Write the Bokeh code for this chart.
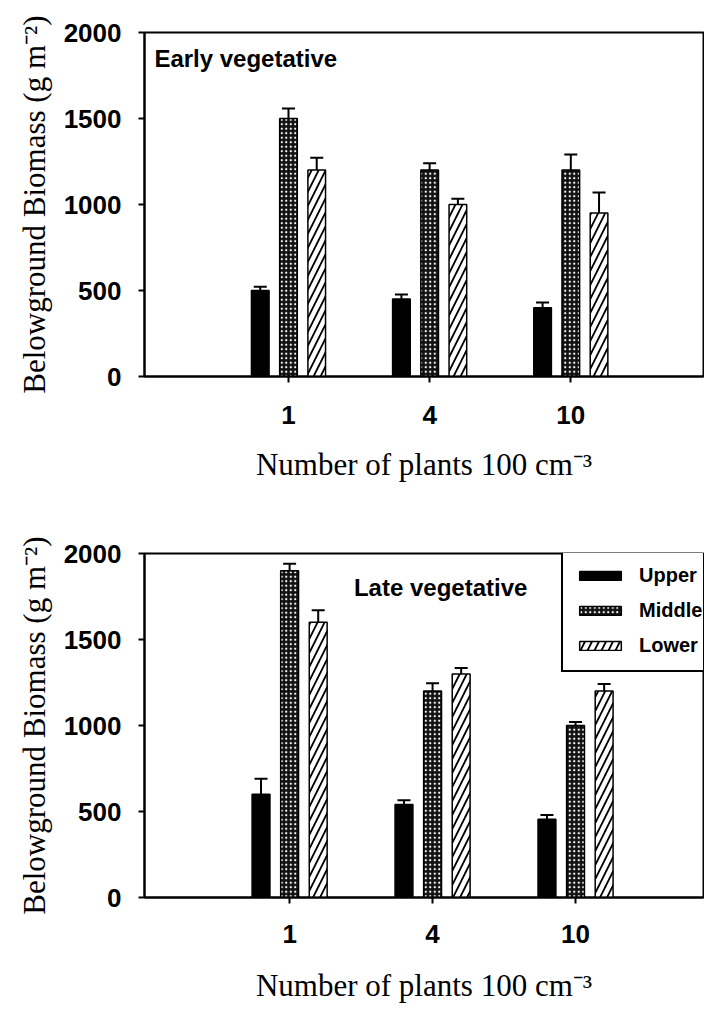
import numpy as np
from bokeh.plotting import figure
from bokeh.layouts import column
from bokeh.models import (ColumnDataSource, Label, Legend, LegendItem, Range1d,
                          Whisker, TeeHead, FixedTicker)
from bokeh.embed import file_html
from bokeh.resources import INLINE

# ---- data -------------------------------------------------------------
densities = ["1", "4", "10"]
layers = ["Upper", "Middle", "Lower"]
y_ticks = [0, 500, 1000, 1500, 2000]

early_upper = [500, 450, 400]
early_middle = [1500, 1200, 1200]
early_lower = [1200, 1000, 950]
early_upper_se = [22, 27, 30]
early_middle_se = [58, 40, 90]
early_lower_se = [72, 33, 120]

late_upper = [600, 540, 455]
late_middle = [1900, 1200, 1000]
late_lower = [1600, 1300, 1200]
late_upper_se = [90, 25, 25]
late_middle_se = [40, 45, 20]
late_lower_se = [70, 35, 42]

# ---- styles -----------------------------------------------------------
TICK_FONT = "Liberation Sans"
LABEL_FONT = "Liberation Serif"
BAR_W = 0.125
OFFSETS = [-0.2, 0.0, 0.2]


def bar_styles(i):
    base = dict(line_color="black", line_width=1.5)
    if i == 0:
        base.update(fill_color="black")
    elif i == 1:
        base.update(fill_color="#111111", hatch_pattern="dot", hatch_color="white",
                    hatch_scale=4.5, hatch_weight=1.6)
    else:
        base.update(fill_color="white", hatch_pattern="right_diagonal_line",
                    hatch_color="black", hatch_scale=14, hatch_weight=1.8)
    return base


def make_panel(title, series, errs, height, b_top, b_bottom, b_left, x_rng,
               title_pos, legend_loc, tick_standoff, label_standoff):
    p = figure(width=704, height=height, x_range=Range1d(*x_rng),
               y_range=Range1d(0, 2000), output_backend="svg",
               toolbar_location=None, min_border_top=b_top,
               min_border_bottom=b_bottom, min_border_left=b_left,
               min_border_right=1)
    p.xgrid.grid_line_color = None
    p.ygrid.grid_line_color = None
    p.outline_line_color = "black"
    p.outline_line_width = 2
    p.outline_line_alpha = 1
    p.background_fill_color = "white"
    p.border_fill_color = "white"

    base_x = np.arange(1, len(densities) + 1)
    renderers = []
    for i, (vals, se) in enumerate(zip(series, errs)):
        x = base_x + OFFSETS[i]
        top = np.array(vals, dtype=float)
        src = ColumnDataSource(dict(x=x, top=top, upper=top + np.array(se)))
        r = p.vbar(x="x", top="top", width=BAR_W, source=src, **bar_styles(i))
        renderers.append(r)
        w = Whisker(base="x", upper="upper", lower="top", source=src,
                    line_color="black", line_width=2,
                    upper_head=TeeHead(size=13, line_color="black", line_width=2),
                    lower_head=None)
        p.add_layout(w)

    # axes
    p.xaxis.ticker = FixedTicker(ticks=list(base_x))
    p.xaxis.major_label_overrides = {int(k): d for k, d in zip(base_x, densities)}
    p.yaxis.ticker = FixedTicker(ticks=y_ticks)
    for ax in (p.xaxis, p.yaxis):
        ax.axis_line_width = 2
        ax.major_tick_line_width = 2
        ax.major_tick_out = 6
        ax.major_tick_in = 0
        ax.minor_tick_line_color = None
        ax.major_label_text_font = TICK_FONT
        ax.major_label_text_font_style = "bold"
        ax.major_label_text_font_size = "26px"
        ax.major_label_text_color = "black"
        ax.axis_label_text_font = LABEL_FONT
        ax.axis_label_text_font_style = "normal"
        ax.axis_label_text_font_size = "31px"
        ax.axis_label_text_color = "black"
    p.xaxis.major_label_standoff = tick_standoff
    p.yaxis.major_label_standoff = 17
    p.xaxis.axis_label = "Number of plants 100 cm\u207b\u00b3"
    p.yaxis.axis_label = "Belowground Biomass (g m\u207b\u00b2)"
    p.xaxis.axis_label_standoff = label_standoff
    p.yaxis.axis_label_standoff = 9

    p.add_layout(Label(x=title_pos[0], y=title_pos[1], text=title,
                       text_font=TICK_FONT, text_font_style="bold",
                       text_font_size="24px", text_color="black",
                       text_baseline="alphabetic"))

    if legend_loc is not None:
        items = [LegendItem(label=lab, renderers=[r]) for lab, r in zip(layers, renderers)]
        lg = Legend(items=items, location=legend_loc, margin=0, padding=11,
                    spacing=8, glyph_width=52, glyph_height=11, label_height=27,
                    label_standoff=13, label_text_font=TICK_FONT,
                    label_text_font_style="bold", label_text_font_size="20px",
                    label_text_color="black",
                    border_line_color="black", border_line_width=2,
                    border_line_alpha=1,
                    background_fill_color="white", background_fill_alpha=1)
        p.add_layout(lg)
    return p


p1 = make_panel("Early vegetative", [early_upper, early_middle, early_lower],
                [early_upper_se, early_middle_se, early_lower_se],
                height=520, b_top=32, b_bottom=144, b_left=139, x_rng=(-0.02, 3.94),
                title_pos=(0.05, 1850), legend_loc=None,
                tick_standoff=23, label_standoff=20)
p2 = make_panel("Late vegetative", [late_upper, late_middle, late_lower],
                [late_upper_se, late_middle_se, late_lower_se],
                height=489, b_top=33, b_bottom=112, b_left=144, x_rng=(-0.015, 3.895),
                title_pos=(1.45, 1802), legend_loc=(417, 225),
                tick_standoff=21, label_standoff=22)

layout = column(p1, p2, spacing=0)
open("out.html", "w").write(file_html(layout, INLINE))
